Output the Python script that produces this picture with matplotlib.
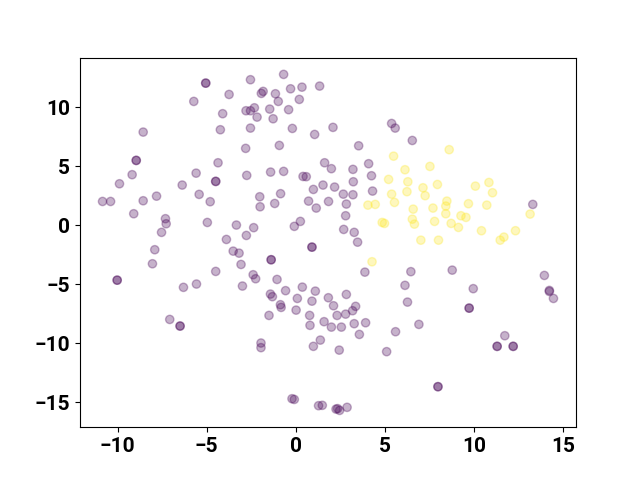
import numpy as np
import matplotlib
matplotlib.use('Agg')
import matplotlib.pyplot as plt

# purple cluster (label 0)
x0 = [-5.05, -5.05, -3.74, -5.72, -4.10, -2.79, -2.54, -2.54, -4.23, -2.54,
      -8.56, -2.81, -4.36, -8.95, -8.95, -5.59, -2.75, -9.18, -9.89, -6.37,
      -4.49, -4.49, -7.81, -5.42, -10.84, -10.39, -8.56, -4.80, -9.09, -7.31,
      -7.27, -4.96, -3.33, -7.53, -3.89, -2.77, -0.68, -0.29, 0.35, 1.34,
      -1.93, -1.83, -1.14, -0.98, 0.20, -2.32, -1.46, -0.40, -2.17, -1.27,
      -0.19, 2.09, 1.06, 5.38, 5.58, -0.92, 3.53, -1.41, -0.68, 0.41,
      0.59, 1.62, 2.00, 3.21, 4.09, 4.25, 3.23, 1.53, 2.18, 0.99,
      4.31, -2.02, -0.85, 2.67, 3.21, -2.00, -1.18, 0.72, 1.15, 1.84,
      2.84, 2.80, 0.26, -0.08, -2.36, 2.69, 3.28, 3.47, 6.54, 13.30,
      6.46, 8.78, 6.13, 9.96, 6.27, 9.73, 9.73, 6.91, 13.95, 14.23,
      14.23, 14.46, 11.73, 11.30, 11.30, 12.20, 12.20, 7.98, 7.98, 0.91,
      0.91, -1.38, -1.38, 3.88, -2.39, -2.25, -1.05, 0.37, 1.10, -0.57,
      -1.42, -1.31, 2.84, 1.83, 0.09, 0.91, -0.86, -0.82, 2.12, 3.36,
      3.19, 0.02, -1.50, 0.78, 2.32, 2.80, 1.59, 0.80, 2.00, 2.56,
      3.28, 3.92, 3.57, 5.60, 1.38, 0.99, 2.44, 5.10, -1.95, -1.95,
      -0.21, -0.08, 1.28, 1.49, 2.26, 2.35, 2.46, 2.88, -7.91, -8.04,
      -10.02, -10.02, -6.30, -5.57, -4.49, -3.51, -3.18, -3.07, -2.99, -7.07,
      -6.49, -6.49]
y0 = [12.06, 12.06, 11.10, 10.51, 9.47, 9.72, 9.72, 12.35, 8.11, 8.25,
      7.91, 6.53, 5.31, 5.51, 5.51, 4.43, 4.24, 4.30, 3.53, 3.42,
      3.73, 3.73, 2.48, 2.63, 2.03, 2.03, 2.09, 2.01, 0.99, 0.57,
      0.14, 0.25, 0.03, -0.59, -1.19, -0.85, 12.80, 11.58, 11.72, 11.81,
      11.19, 11.36, 11.16, 10.51, 10.68, 9.97, 9.86, 9.81, 9.18, 9.04,
      8.22, 8.31, 7.71, 8.64, 8.25, 6.78, 6.75, 4.52, 4.58, 4.15,
      4.13, 5.31, 4.81, 4.75, 5.23, 4.21, 3.70, 3.42, 3.25, 3.05,
      2.91, 2.43, 2.69, 2.65, 2.60, 1.58, 1.86, 2.06, 1.47, 2.03,
      1.81, 0.82, 0.34, -0.08, -0.19, -0.34, -0.59, -1.42, 7.20, 1.78,
      -3.92, -3.79, -5.08, -5.36, -6.50, -7.01, -7.01, -8.39, -4.24, -5.51,
      -5.60, -6.19, -9.35, -10.25, -10.25, -10.25, -10.25, -13.67, -13.67, -1.84,
      -1.84, -2.91, -2.91, -3.96, -4.18, -4.52, -4.58, -5.23, -5.57, -5.53,
      -5.82, -6.04, -5.85, -6.13, -6.19, -6.42, -6.72, -6.95, -6.81, -6.86,
      -7.23, -7.18, -7.63, -7.63, -7.63, -7.52, -8.16, -8.47, -8.62, -8.62,
      -8.33, -8.25, -9.24, -9.01, -9.72, -10.25, -10.57, -10.70, -9.97, -10.36,
      -14.69, -14.75, -15.28, -15.25, -15.57, -15.53, -15.68, -15.42, -2.06, -3.25,
      -4.64, -4.64, -5.25, -4.97, -3.90, -2.18, -2.35, -3.31, -5.14, -7.97,
      -8.53, -8.53]

# yellow cluster (label 1)
x1 = [5.49, 6.13, 5.21, 6.29, 5.38, 6.24, 5.54, 4.05, 4.46, 4.85,
      4.98, 8.61, 7.53, 7.14, 7.95, 7.26, 10.08, 10.84, 11.04, 8.48,
      8.42, 9.69, 10.72, 6.59, 7.70, 8.42, 6.54, 6.66, 7.79, 9.27,
      9.55, 8.72, 9.13, 13.15, 10.42, 12.33, 11.47, 11.68, 7.02, 8.01,
      4.28]
y1 = [5.87, 4.72, 3.90, 3.70, 2.65, 2.86, 1.95, 1.72, 1.78, 0.25,
      0.17, 6.42, 5.00, 3.19, 3.47, 2.52, 3.33, 3.64, 2.77, 2.06,
      1.64, 1.84, 1.72, 1.38, 1.47, 0.99, 0.53, 0.11, 0.34, 0.82,
      0.68, 0.17, -0.17, 0.96, -0.45, -0.45, -1.25, -0.99, -1.25, -1.25,
      -3.08]

X = np.array(x0 + x1)
Y = np.array(y0 + y1)
labels = np.array([0] * len(x0) + [1] * len(x1))

plt.rcParams['font.family'] = ['Roboto', 'DejaVu Sans']
plt.rcParams['font.weight'] = 'bold'

fig = plt.figure(figsize=(6.4, 4.8), dpi=100)
plt.scatter(X, Y, c=labels, alpha=0.3)
plt.xticks(fontsize=15, fontweight='bold')
plt.yticks(fontsize=15, fontweight='bold')

plt.savefig('out.png')
